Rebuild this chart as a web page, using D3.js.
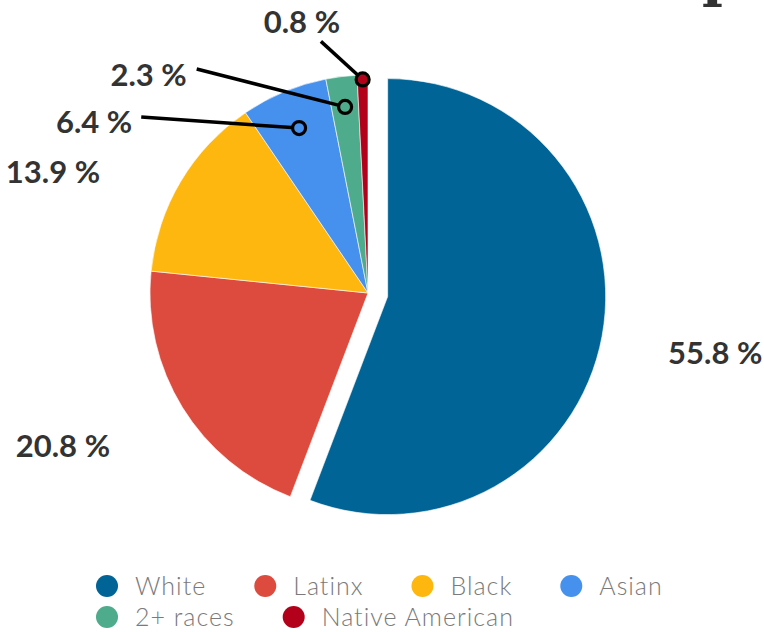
<!DOCTYPE html>
<html>
<head>
<meta charset="utf-8">
<script src="https://cdn.jsdelivr.net/npm/d3@7"></script>
<style>
  html, body { margin: 0; padding: 0; background: #fff; }
  svg { display: block; }
</style>
</head>
<body>
<svg id="chart" width="764" height="632"></svg>
<script>
// ---- data ----
const categories = ["White", "Latinx", "Black", "Asian", "2+ races", "Native American"];
const values = [55.8, 20.8, 13.9, 6.4, 2.3, 0.8];
const colors = ["#016496", "#dc4b3e", "#feb70e", "#4691ed", "#4eab8b", "#b3001b"];

// ---- layout (not data) ----
const W = 764, H = 632;
const cx = 368, cy = 293, R = 218, explode = 20;
// outer labels: anchor point given as polar (deg clockwise from top, radius)
const labelPolar = [
  { a: 101.3, r: 306, anchor: "start" },
  { a: 239.3, r: 300, anchor: "end" },
  { a: 294.3, r: 294, anchor: "end" },
  null, null, null
];
// leader-line labels: circle at fraction of radius on mid-angle, elbow in polar, text offset
const leaders = [
  null, null, null,
  { f: 0.82, a: 307.8, r: 287, tdx: -9, tdy: 5, anchor: "end" },
  { f: 0.86, a: 322.6, r: 282, tdx: -10, tdy: 6, anchor: "end" },
  { f: 0.98, a: 349.4, r: 256, tdx: -19, tdy: -19, anchor: "middle" }
];
const labelSize = 31;

const svg = d3.select("#chart");
const rad = d => d * Math.PI / 180;
const polar = (a, r) => [Math.sin(rad(a)) * r, -Math.cos(rad(a)) * r];

const pie = d3.pie().sort(null).value(d => d)(values);
const arc = d3.arc().innerRadius(0).outerRadius(R);

const g = svg.append("g").attr("transform", `translate(${cx},${cy})`);

pie.forEach((d, i) => {
  const mid = (d.startAngle + d.endAngle) / 2;
  const off = i === 0 ? explode : 0;
  const ox = Math.sin(mid) * off, oy = -Math.cos(mid) * off;
  g.append("path")
    .attr("d", arc(d))
    .attr("transform", `translate(${ox},${oy})`)
    .attr("fill", colors[i])
    .attr("stroke", "#fff")
    .attr("stroke-width", 0.6);
});

const labelFont = "Lato, 'Open Sans', sans-serif";
const fmt = v => v.toFixed(1) + " %";

// direct labels
pie.forEach((d, i) => {
  const lp = labelPolar[i];
  if (!lp) return;
  const [x, y] = polar(lp.a, lp.r);
  g.append("text")
    .attr("x", x).attr("y", y).attr("dy", "0.35em")
    .attr("text-anchor", lp.anchor)
    .attr("font-family", labelFont)
    .attr("font-weight", 700)
    .attr("font-size", labelSize)
    .attr("fill", "#333")
    .text(fmt(values[i]));
});

// leader labels
pie.forEach((d, i) => {
  const L = leaders[i];
  if (!L) return;
  const mid = (d.startAngle + d.endAngle) / 2;
  const px = Math.sin(mid) * R * L.f, py = -Math.cos(mid) * R * L.f;
  const [ex, ey] = polar(L.a, L.r);
  g.append("line")
    .attr("x1", ex).attr("y1", ey).attr("x2", px).attr("y2", py)
    .attr("stroke", "#000").attr("stroke-width", 3.5);
  g.append("circle")
    .attr("cx", px).attr("cy", py).attr("r", 6.5)
    .attr("fill", colors[i]).attr("stroke", "#000").attr("stroke-width", 3.2);
  g.append("text")
    .attr("x", ex + L.tdx).attr("y", ey + L.tdy).attr("dy", "0.35em")
    .attr("text-anchor", L.anchor)
    .attr("font-family", labelFont)
    .attr("font-weight", 700)
    .attr("font-size", labelSize)
    .attr("fill", "#333")
    .text(fmt(values[i]));
});

// cut-off title glyph at the top edge (as in the reference)
svg.append("text")
  .attr("x", 702).attr("y", -5)
  .attr("font-family", "'DejaVu Serif', serif")
  .attr("font-weight", 700)
  .attr("font-size", 56)
  .attr("fill", "#333")
  .text("p");

// legend (flow layout, left aligned)
const legend = svg.append("g");
const legX0 = 96, legMaxX = 690, rowH = 31, legY0 = 586, dotR = 11, textGap = 28, itemGap = 48;
let lx = legX0, ly = legY0;
categories.forEach((c, i) => {
  const item = legend.append("g");
  item.append("circle").attr("cx", dotR).attr("cy", 0).attr("r", dotR).attr("fill", colors[i]);
  const t = item.append("text")
    .attr("x", dotR + textGap).attr("y", 0).attr("dy", "0.35em")
    .attr("font-family", "Lato, sans-serif")
    .attr("font-weight", 300)
    .attr("font-size", 25)
    .attr("letter-spacing", 1)
    .attr("fill", "#7a7a7a")
    .text(c);
  const w = dotR + textGap + t.node().getComputedTextLength();
  if (lx + w > legMaxX && lx > legX0) { lx = legX0; ly += rowH; }
  item.attr("transform", `translate(${lx},${ly})`);
  lx += w + itemGap;
});
</script>
</body>
</html>
